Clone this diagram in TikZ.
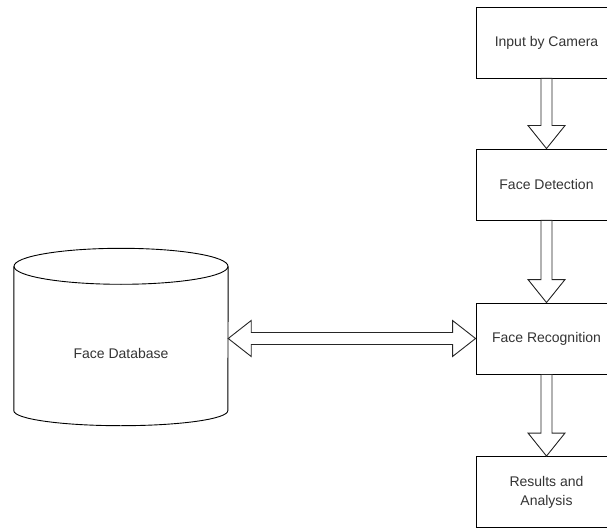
\documentclass[tikz,border=0pt]{standalone}
\usepackage{fontspec}
\setmainfont{Liberation Sans}
\usepackage{xcolor}
\usepackage{tikz}
\usetikzlibrary{calc}
\definecolor{txtgray}{HTML}{333333}
\tikzstyle{stage} = [rectangle, draw=black, line width=0.9pt,
    minimum width=141pt, minimum height=71pt, inner sep=2pt,
    text centered, align=center, text=txtgray,
    font=\fontsize{14}{19}\selectfont]
\tikzstyle{dbbody} = [rectangle, minimum width=214pt, minimum height=144pt, inner sep=0pt]
\tikzstyle{dbtext} = [text=txtgray, font=\fontsize{14}{19}\selectfont]
\tikzstyle{hollow} = [draw=black!85, line width=0.9pt, fill=white, line join=miter]
\newcommand{\downblock}[2]{%
  \draw[hollow] ($(#1.south)+(-5.5,0)$) -- ($(#2.north)+(-5.5,23)$)
    -- ($(#2.north)+(-18.5,23)$) -- (#2.north) -- ($(#2.north)+(18.5,23)$)
    -- ($(#2.north)+(5.5,23)$) -- ($(#1.south)+(5.5,0)$) -- cycle;}

\begin{document}
\begin{tikzpicture}[x=1pt, y=1pt]
  \useasboundingbox (0,0) rectangle (607,528);

  % Pipeline
  \node[stage] (cam) at (546.5,485.5) {Input by Camera};
  \node[stage] (det) at (546.5,343.5) {Face Detection};
  \node[stage] (rec) at (546.5,189.5) {Face Recognition};
  \node[stage] (res) at (546.5,36) {Results and\\Analysis};

  % Database
  \node[dbbody] (db) at (121,189.5) {};
  \draw[line width=0.9pt] (db.north west) -- (db.south west)
    arc[start angle=180, end angle=360, x radius=107, y radius=15]
    -- (db.north east);
  \draw[line width=0.9pt] (db.north) ellipse[x radius=107, y radius=18];
  \node[dbtext] (dblabel) at (121,175) {Face Database};

  % Block arrows
  \downblock{cam}{det}
  \downblock{det}{rec}
  \downblock{rec}{res}
  \draw[hollow] (db.east) -- ($(db.east)+(23,18)$) -- ($(db.east)+(23,6)$)
    -- ($(rec.west)+(-23,6)$) -- ($(rec.west)+(-23,18)$) -- (rec.west)
    -- ($(rec.west)+(-23,-18)$) -- ($(rec.west)+(-23,-6)$)
    -- ($(db.east)+(23,-6)$) -- ($(db.east)+(23,-18)$) -- cycle;
\end{tikzpicture}
\end{document}
